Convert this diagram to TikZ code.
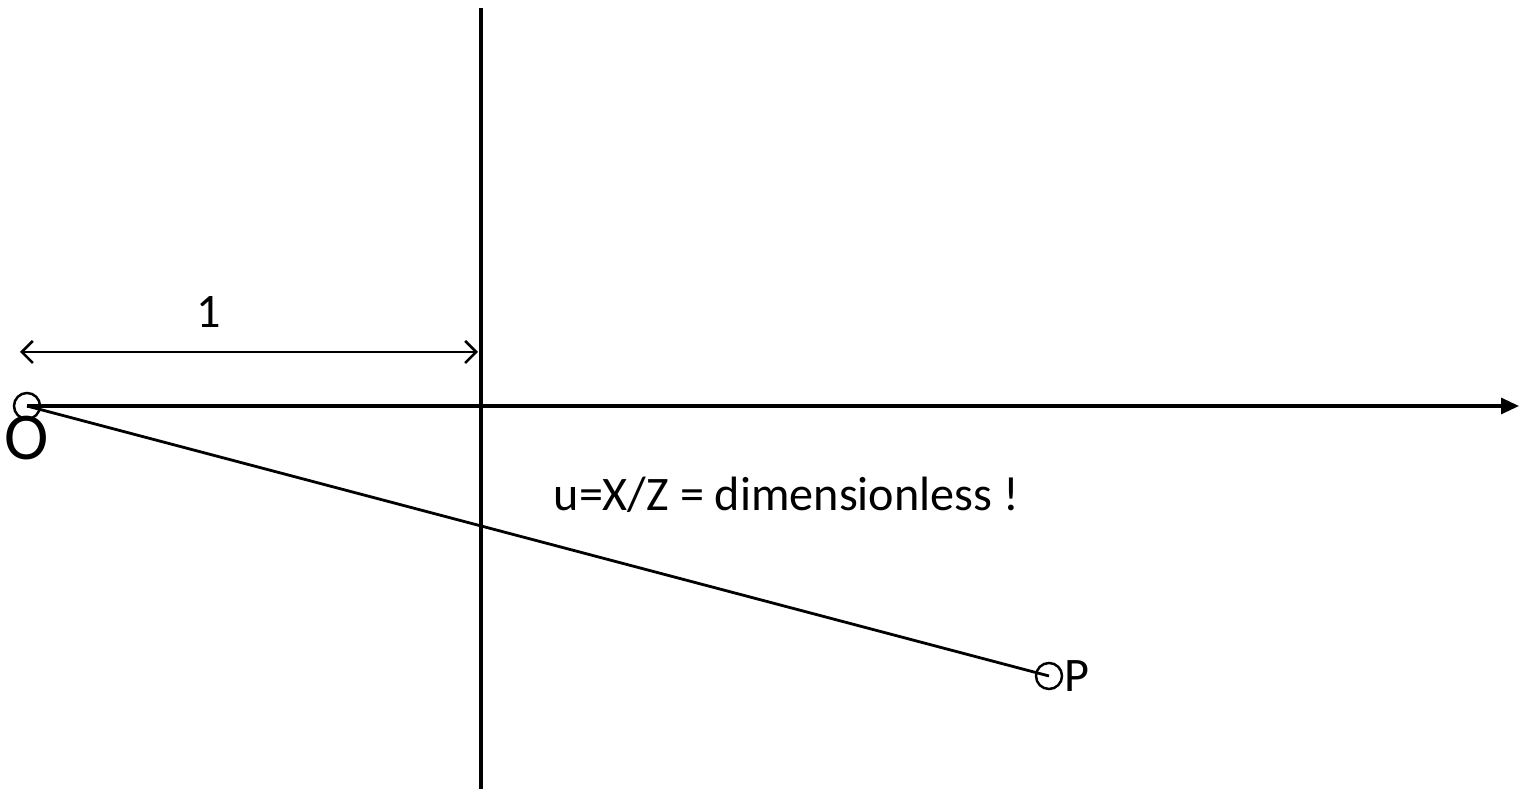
\documentclass[tikz,border=0pt]{standalone}
\usepackage{fontspec}
\setmainfont{Carlito}
\usetikzlibrary{arrows.meta, positioning}
\tikzset{
    pointmark/.style={circle, draw, line width=0.7pt, minimum size=0.26cm, inner sep=0pt},
    axisline/.style={line width=0.9pt},
    axisarrow/.style={-{Triangle[length=0.18cm, width=0.16cm]}, line width=0.9pt},
    dimarrow/.style={{Straight Barb[length=0.11cm, width=0.22cm]}-{Straight Barb[length=0.11cm, width=0.22cm]}, line width=0.75pt},
    lbl/.style={inner sep=0pt, font=\fontsize{13.7}{16}\selectfont}
}
\begin{document}
\begin{tikzpicture}[x=0.01cm, y=-0.01cm]
    \useasboundingbox (0,0) rectangle (1521,789);

    % image plane and optical axis
    \coordinate (planetop) at (481,8);
    \coordinate (planebot) at (481,789);
    \coordinate (axisend) at (1519,406);
    \draw[axisline] (planetop) -- (planebot);

    \node[pointmark] (O) at (27,406) {};
    \node[pointmark] (P) at (1049,676) {};
    \draw[axisarrow] (O.center) -- (axisend);
    \draw[axisline, line width=0.8pt] (O.center) -- (P.center);

    % unit distance
    \coordinate (dimL) at (20,352);
    \coordinate (dimR) at (478,352);
    \draw[dimarrow] (dimL) -- (dimR);
    \node[lbl] (one) at (209,312) {1};

    % labels
    \node[lbl, font=\fontsize{19}{22}\selectfont] (Olabel) at (27,438) {O};
    \node[lbl, right=0.01cm of P.east] (Plabel) {P};
    \node[lbl, anchor=west] (note) at (553,495) {u=X/Z = dimensionless !};
\end{tikzpicture}
\end{document}
